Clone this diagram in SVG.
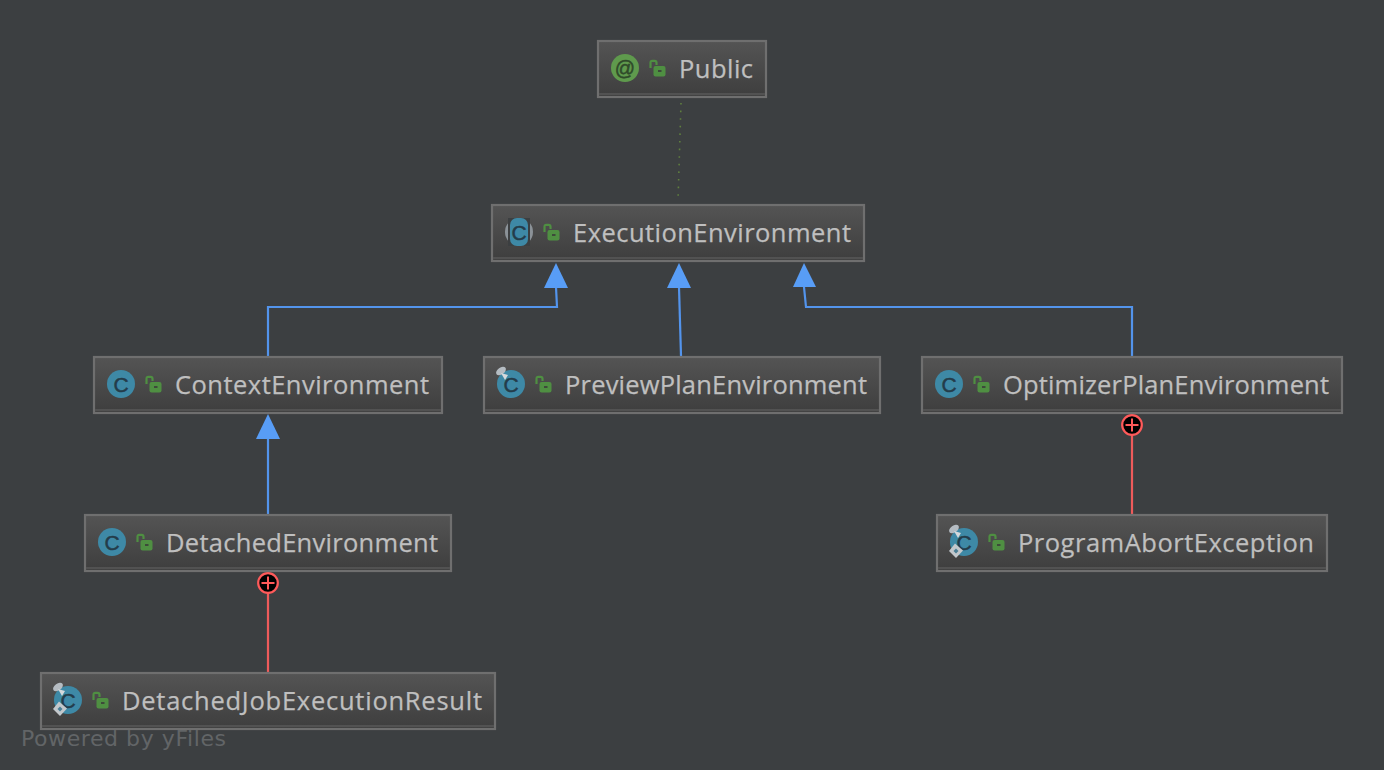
<svg xmlns="http://www.w3.org/2000/svg" xmlns:xlink="http://www.w3.org/1999/xlink" width="1384" height="770" viewBox="0 0 1384 770">
<style>
.box{fill:url(#hdr);stroke:#6f6f6f;stroke-width:2.2}
.band{fill:#525252}
.lbl{font-family:"Open Sans","Liberation Sans",sans-serif;font-size:25.5px;fill:#bfbfbf;stroke:#bfbfbf;stroke-width:.25}
.cl{font-family:"Liberation Sans",sans-serif;font-size:21px;fill:#243c4a;text-anchor:middle;stroke:#243c4a;stroke-width:.5}
.inh{fill:none;stroke:#5394ec;stroke-width:2.2}
.inner{fill:none;stroke:#ee5b5b;stroke-width:2.2}
.dot{fill:none;stroke:#5f7f3f;stroke-width:1.6;stroke-dasharray:1.6 6}
.head{fill:#589df6}
.plus{fill:#000;stroke:#ff5a5a;stroke-width:2.2}
.plusb{fill:none;stroke:#ff5a5a;stroke-width:2}
.circ{fill:#3e89a6}
.pin{fill:#b5bcc2}
</style>
<defs>
<linearGradient id="hdr" x1="0" y1="0" x2="0" y2="1"><stop offset="0" stop-color="#545454"/><stop offset="1" stop-color="#3e3e3e"/></linearGradient>
<g id="lock"><path d="M1.5 8V2.8Q1.5 .8 3.4 .8H5.6Q7.5 .8 7.5 2.8V5" fill="none" stroke="#4f8f42" stroke-width="2.2"/><rect x="4.5" y="6" width="12" height="10.5" rx="2" fill="#4f8f42"/><rect x="9" y="10" width="3.5" height="2" fill="#3d4a3a"/></g>
<g id="pinmark"><ellipse cx="-10" cy="-13" rx="5.5" ry="3.4" transform="rotate(-35 -10 -13)" class="pin"/><path d="M-10 -11L-3 -9L-6 -4Z" fill="#d5d9dc"/></g>
<g id="diamond"><path d="M-9 1.500L-1 8.500L-8 16L-15 9Z" fill="#c3c8cc"/><path d="M-8 6.500L-5.500 9L-8 11.500L-10.500 9Z" fill="#4b7f96"/></g>
</defs>
<rect width="1384" height="770" fill="#3c3f41"/>
<g id="connectors">
<path class="dot" d="M681 103L678 201"/>
<path class="inh" d="M268 356V307H557L556 287"/>
<path class="head" d="M556 263L544 288H568Z"/>
<path class="inh" d="M681 356L679 287"/>
<path class="head" d="M679 263L667 288H691Z"/>
<path class="inh" d="M1132 356V307H806L804 287"/>
<path class="head" d="M804 263L793 287H816Z"/>
<path class="inh" d="M268 514V438"/>
<path class="head" d="M268 414L256 439H280Z"/>
<path class="inner" d="M1132 435V514"/>
<circle class="plus" cx="1132" cy="425" r="9.8"/><path class="plusb" d="M1125.500 425H1138.500M1132 418.500V431.500"/>
<path class="inner" d="M268 593V672"/>
<circle class="plus" cx="268" cy="583" r="9.8"/><path class="plusb" d="M261.500 583H274.500M268 576.500V589.500"/>
</g>
<g id="public">
<rect class="box" x="598" y="41" width="168" height="56"/><rect class="band" x="599" y="93" width="166" height="2"/>
<circle cx="625" cy="68" r="14" fill="#5f9a4d"/><text x="625" y="75" class="cl" style="font-size:20px;fill:#2f4a2a;stroke:#2f4a2a">@</text>
<use xlink:href="#lock" href="#lock" x="649" y="60"/>
<text class="lbl" x="679" y="78" textLength="74">Public</text>
</g>
<g id="executionenvironment">
<circle cx="519" cy="232" r="0" fill="none"/>
<rect class="box" x="492" y="205" width="372" height="56"/><rect class="band" x="493" y="257" width="370" height="2"/>
<circle cx="519" cy="232" r="14" fill="#8b9298"/><rect x="508" y="218" width="22" height="28" fill="#3c3f41"/><rect x="510" y="218" width="18" height="28" rx="7" fill="#3e89a6"/>
<text x="519" y="239.500" class="cl">C</text>
<use xlink:href="#lock" href="#lock" x="543" y="224"/>
<text class="lbl" x="573" y="242" textLength="278">ExecutionEnvironment</text>
</g>
<g id="contextenvironment">
<rect class="box" x="94" y="357" width="348" height="56"/><rect class="band" x="95" y="409" width="346" height="2"/>
<circle class="circ" cx="121" cy="384" r="14"/><text x="121" y="391.500" class="cl">C</text>
<use xlink:href="#lock" href="#lock" x="145" y="376"/>
<text class="lbl" x="175" y="394" textLength="254">ContextEnvironment</text>
</g>
<g id="previewplanenvironment">
<rect class="box" x="484" y="357" width="396" height="56"/><rect class="band" x="485" y="409" width="394" height="2"/>
<circle class="circ" cx="511" cy="384" r="14"/><text x="511" y="391.500" class="cl">C</text>
<use xlink:href="#pinmark" href="#pinmark" x="511" y="384"/>
<use xlink:href="#lock" href="#lock" x="535" y="376"/>
<text class="lbl" x="565" y="394" textLength="302">PreviewPlanEnvironment</text>
</g>
<g id="optimizerplanenvironment">
<rect class="box" x="922" y="357" width="420" height="56"/><rect class="band" x="923" y="409" width="418" height="2"/>
<circle class="circ" cx="949" cy="384" r="14"/><text x="949" y="391.500" class="cl">C</text>
<use xlink:href="#lock" href="#lock" x="973" y="376"/>
<text class="lbl" x="1003" y="394" textLength="326">OptimizerPlanEnvironment</text>
</g>
<g id="detachedenvironment">
<rect class="box" x="85" y="515" width="366" height="56"/><rect class="band" x="86" y="567" width="364" height="2"/>
<circle class="circ" cx="112" cy="542" r="14"/><text x="112" y="549.500" class="cl">C</text>
<use xlink:href="#lock" href="#lock" x="136" y="534"/>
<text class="lbl" x="166" y="552" textLength="272">DetachedEnvironment</text>
</g>
<g id="programabortexception">
<rect class="box" x="937" y="515" width="390" height="56"/><rect class="band" x="938" y="567" width="388" height="2"/>
<circle class="circ" cx="964" cy="542" r="14"/><text x="964" y="549.500" class="cl">C</text>
<use xlink:href="#pinmark" href="#pinmark" x="964" y="542"/><use xlink:href="#diamond" href="#diamond" x="964" y="542"/>
<use xlink:href="#lock" href="#lock" x="988" y="534"/>
<text class="lbl" x="1018" y="552" textLength="296">ProgramAbortException</text>
</g>
<g id="detachedjobexecutionresult">
<rect class="box" x="41" y="673" width="454" height="56"/><rect class="band" x="42" y="725" width="452" height="2"/>
<circle class="circ" cx="68" cy="700" r="14"/><text x="68" y="707.500" class="cl">C</text>
<use xlink:href="#pinmark" href="#pinmark" x="68" y="700"/><use xlink:href="#diamond" href="#diamond" x="68" y="700"/>
<use xlink:href="#lock" href="#lock" x="92" y="692"/>
<text class="lbl" x="122" y="710" textLength="360">DetachedJobExecutionResult</text>
</g>
<text x="21" y="746" textLength="205" style="font-family:'DejaVu Sans',sans-serif;font-size:22px;fill:#626567">Powered by yFiles</text>
</svg>
